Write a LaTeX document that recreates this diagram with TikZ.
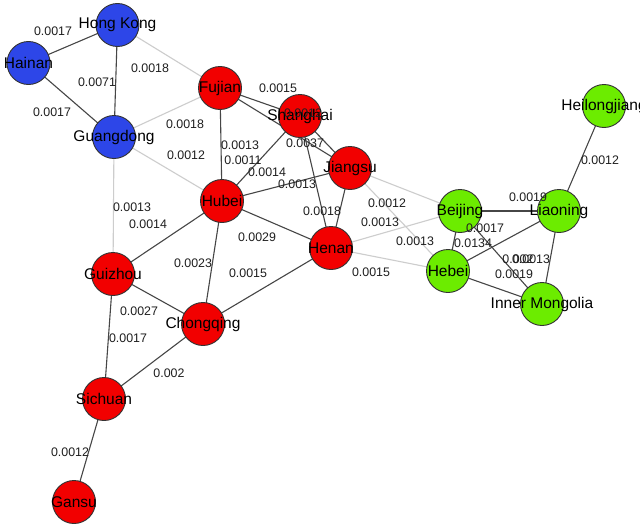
\documentclass[tikz,border=0pt]{standalone}
\usepackage{fontspec}
\setmainfont{Liberation Sans}
\usetikzlibrary{backgrounds}
\definecolor{nodered}{RGB}{242,0,0}
\definecolor{nodeblue}{RGB}{45,70,232}
\definecolor{nodegreen}{RGB}{108,236,0}
\definecolor{darkedge}{RGB}{70,70,70}
\definecolor{lightedge}{RGB}{205,205,205}
\begin{document}
\begin{tikzpicture}[x=1pt,y=-1pt,
  region/.style={circle,draw=black!80,line width=0.9pt,minimum size=43pt,inner sep=0pt},
  nlab/.style={font=\fontsize{15.5}{16}\selectfont,text=black},
  rednode/.style={region,fill=nodered},
  bluenode/.style={region,fill=nodeblue},
  greennode/.style={region,fill=nodegreen},
  dk/.style={draw=darkedge,line width=1.1pt},
  lt/.style={draw=lightedge,line width=1.1pt},
  wlab/.style={font=\fontsize{12.4}{13}\selectfont,inner sep=0pt,text=black!88}]
\clip (0,0) rectangle (640,530);
% nodes
\node[bluenode,label={[nlab]center:Hong Kong}] (hk) at (117.5,25) {};
\node[bluenode,label={[nlab]center:Hainan}] (hn) at (28.5,63) {};
\node[bluenode,label={[nlab]center:Guangdong}] (gd) at (114,137) {};
\node[rednode,label={[nlab]center:Fujian}] (fj) at (220,88) {};
\node[rednode,label={[nlab]center:Shanghai}] (sh) at (300,116) {};
\node[rednode,label={[nlab]center:Jiangsu}] (js) at (350,168) {};
\node[rednode,label={[nlab]center:Hubei}] (hb) at (222,201) {};
\node[rednode,label={[nlab]center:Henan}] (ha) at (331,248) {};
\node[rednode,label={[nlab]center:Guizhou}] (gz) at (113,274) {};
\node[rednode,label={[nlab]center:Chongqing}] (cq) at (203,324) {};
\node[rednode,label={[nlab]center:Sichuan}] (sc) at (104,399) {};
\node[rednode,label={[nlab]center:Gansu}] (gs) at (74,502) {};
\node[greennode,label={[nlab]center:Beijing}] (bj) at (460,211) {};
\node[greennode,label={[nlab]center:Liaoning}] (ln) at (559,211) {};
\node[greennode,label={[nlab]center:Hebei}] (he) at (448,271) {};
\node[greennode,label={[nlab]center:Inner Mongolia}] (nm) at (542,304) {};
\node[greennode,label={[nlab]center:Heilongjiang}] (hl) at (604,106) {};
% edges
\begin{scope}[on background layer]
\fill[white] (0,0) rectangle (640,530);
\draw[lt] (hk.center) -- (fj.center);
\draw[lt] (gd.center) -- (fj.center);
\draw[lt] (gd.center) -- (hb.center);
\draw[lt] (gd.center) -- (gz.center);
\draw[lt] (js.center) -- (bj.center);
\draw[lt] (ha.center) -- (bj.center);
\draw[lt] (js.center) -- (he.center);
\draw[lt] (ha.center) -- (he.center);
\draw[dk] (hn.center) -- (hk.center);
\draw[dk] (hn.center) -- (gd.center);
\draw[dk] (hk.center) -- (gd.center);
\draw[dk] (fj.center) -- (sh.center);
\draw[dk] (fj.center) -- (js.center);
\draw[dk] (sh.center) -- (js.center);
\draw[dk] (fj.center) -- (hb.center);
\draw[dk] (hb.center) -- (sh.center);
\draw[dk] (hb.center) -- (js.center);
\draw[dk] (sh.center) -- (ha.center);
\draw[dk] (js.center) -- (ha.center);
\draw[dk] (hb.center) -- (ha.center);
\draw[dk] (hb.center) -- (gz.center);
\draw[dk] (hb.center) -- (cq.center);
\draw[dk] (cq.center) -- (ha.center);
\draw[dk] (gz.center) -- (cq.center);
\draw[dk] (gz.center) -- (sc.center);
\draw[dk] (cq.center) -- (sc.center);
\draw[dk] (sc.center) -- (gs.center);
\draw[dk] (bj.center) -- (ln.center);
\draw[dk] (ln.center) -- (hl.center);
\draw[dk] (bj.center) -- (he.center);
\draw[dk] (bj.center) -- (nm.center);
\draw[dk] (he.center) -- (ln.center);
\draw[dk] (ln.center) -- (nm.center);
\draw[dk] (he.center) -- (nm.center);
\end{scope}
% edge labels
\node[wlab] (l1) at (53,31) {0.0017};
\node[wlab] (l2) at (52,112) {0.0017};
\node[wlab] (l3) at (97,82) {0.0071};
\node[wlab] (l4) at (150,68) {0.0018};
\node[wlab] (l5) at (185,124) {0.0018};
\node[wlab] (l6) at (186,155) {0.0012};
\node[wlab] (l7) at (132,207) {0.0013};
\node[wlab] (l8) at (278,88) {0.0015};
\node[wlab] (l9) at (303,113) {0.0012};
\node[wlab] (l10) at (305,143) {0.0037};
\node[wlab] (l11) at (240,145) {0.0013};
\node[wlab] (l12) at (243,160) {0.0011};
\node[wlab] (l13) at (267,172) {0.0014};
\node[wlab] (l14) at (297,184) {0.0013};
\node[wlab] (l15) at (322,211) {0.0018};
\node[wlab] (l16) at (257,237) {0.0029};
\node[wlab] (l17) at (148,224) {0.0014};
\node[wlab] (l18) at (193,263) {0.0023};
\node[wlab] (l19) at (248,273) {0.0015};
\node[wlab] (l20) at (139,311) {0.0027};
\node[wlab] (l21) at (128,338) {0.0017};
\node[wlab] (l22) at (169,373) {0.002};
\node[wlab] (l23) at (70,452) {0.0012};
\node[wlab] (l24) at (387,203) {0.0012};
\node[wlab] (l25) at (380,222) {0.0013};
\node[wlab] (l26) at (415,241) {0.0013};
\node[wlab] (l27) at (371,272) {0.0015};
\node[wlab] (l28) at (528,197) {0.0019};
\node[wlab] (l29) at (600,160) {0.0012};
\node[wlab] (l30) at (473,243) {0.0134};
\node[wlab] (l31) at (485,228) {0.0017};
\node[wlab] (l32) at (518,259) {0.002};
\node[wlab] (l33) at (531,259) {0.0013};
\node[wlab] (l34) at (514,274) {0.0019};
\end{tikzpicture}
\end{document}
